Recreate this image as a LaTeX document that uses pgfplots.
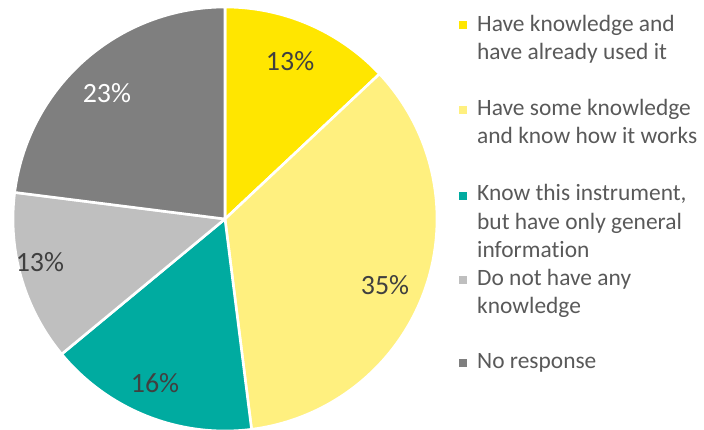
\documentclass[border=0pt]{standalone}
\usepackage{pgfplots}
\pgfplotsset{compat=1.18}
\usepackage{fontspec}
\setmainfont{Carlito}[Ligatures=NoCommon]
\definecolor{cA}{HTML}{FFE600}
\definecolor{cB}{HTML}{FFF07F}
\definecolor{cC}{HTML}{00ABA0}
\definecolor{cD}{HTML}{BFBFBF}
\definecolor{cE}{HTML}{7F7F7F}
\definecolor{lab}{HTML}{404040}
\definecolor{leg}{HTML}{595959}
% shares (percent), clockwise from 12 o'clock
\def\vA{13}\def\vB{35}\def\vC{16}\def\vD{13}\def\vE{23}
\pgfmathsetmacro{\sA}{90}
\pgfmathsetmacro{\sB}{\sA-3.6*\vA}
\pgfmathsetmacro{\sC}{\sB-3.6*\vB}
\pgfmathsetmacro{\sD}{\sC-3.6*\vC}
\pgfmathsetmacro{\sE}{\sD-3.6*\vD}
\pgfmathsetmacro{\sF}{\sE-3.6*\vE}
\begin{document}
\begin{tikzpicture}
\begin{axis}[
  at={(0,0)}, anchor=south west,
  scale only axis, width=704bp, height=430bp,
  xmin=-1.0613, xmax=2.2594, ymin=-0.9953, ymax=1.0330,
  hide axis, clip=false,
  every axis plot/.append style={draw=white, line width=2.6bp, line join=round, samples=90, variable=\t},
]
\addplot[fill=cA, domain=\sB:\sA] ({cos(\t)},{sin(\t)}) -- (axis cs:0,0) -- cycle;
\addplot[fill=cB, domain=\sC:\sB] ({cos(\t)},{sin(\t)}) -- (axis cs:0,0) -- cycle;
\addplot[fill=cC, domain=\sD:\sC] ({cos(\t)},{sin(\t)}) -- (axis cs:0,0) -- cycle;
\addplot[fill=cD, domain=\sE:\sD] ({cos(\t)},{sin(\t)}) -- (axis cs:0,0) -- cycle;
\addplot[fill=cE, domain=\sF:\sE] ({cos(\t)},{sin(\t)}) -- (axis cs:0,0) -- cycle;
\begin{scope}[font=\fontsize{28}{33}\selectfont]
\node[text=lab] at (axis cs:0.307,0.745) {\vA\%};
\node[text=lab] at (axis cs:0.755,-0.313) {\vB\%};
\node[text=lab] at (axis cs:-0.330,-0.776) {\vC\%};
\node[text=lab] at (axis cs:-0.873,-0.205) {\vD\%};
\node[text=white] at (axis cs:-0.557,0.592) {\vE\%};
\end{scope}
\end{axis}
\begin{scope}[x=1bp, y=-1bp, shift={(0,430bp)}, font=\fontsize{23.5}{28.6}\selectfont, text=leg]
\fill[cA] (459,21.5) rectangle (467,29.5);
\node[anchor=base west, inner sep=0pt] at (477,31.5) {Have knowledge and};
\node[anchor=base west, inner sep=0pt] at (477,60) {have already used it};
\fill[cB] (459,106) rectangle (467,114);
\node[anchor=base west, inner sep=0pt] at (477,115.5) {Have some knowledge};
\node[anchor=base west, inner sep=0pt] at (477,144) {and know how it works};
\fill[cC] (459,191.6) rectangle (467,199.6);
\node[anchor=base west, inner sep=0pt] at (477,201) {Know this instrument,};
\node[anchor=base west, inner sep=0pt] at (477,229.5) {but have only general};
\node[anchor=base west, inner sep=0pt] at (477,258) {information};
\fill[cD] (459,276) rectangle (467,284);
\node[anchor=base west, inner sep=0pt] at (477,285.5) {Do not have any};
\node[anchor=base west, inner sep=0pt] at (477,314) {knowledge};
\fill[cE] (459,359.5) rectangle (467,367.5);
\node[anchor=base west, inner sep=0pt] at (477,369) {No response};
\end{scope}
\pgfresetboundingbox
\path (0,0) rectangle (704bp,430bp);
\end{tikzpicture}
\end{document}
